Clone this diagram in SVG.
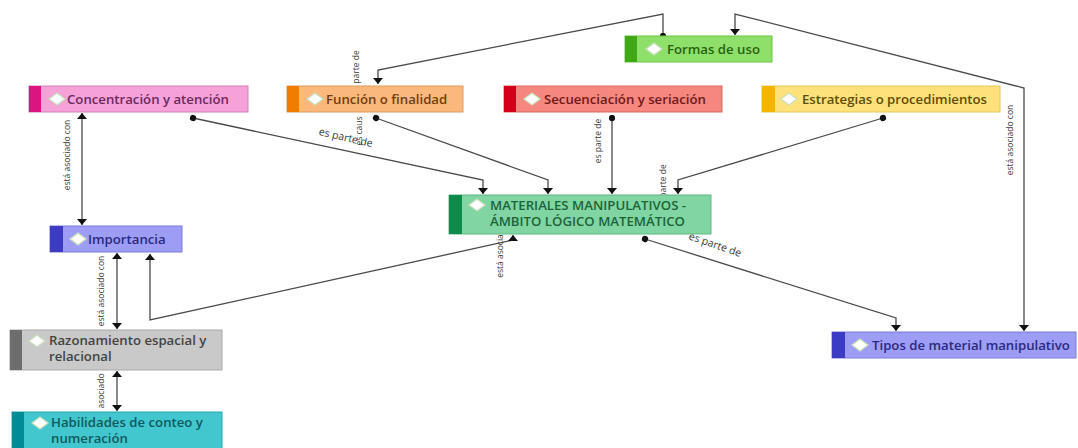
<svg xmlns="http://www.w3.org/2000/svg" width="1078" height="448" viewBox="0 0 1078 448">
<style>
.bg{fill:#ffffff}
.ln{fill:none;stroke:#4a4a4a;stroke-width:1.3}
.t{font-family:"Open Sans","Liberation Sans",sans-serif;font-size:13.2px;font-weight:600}
.lb{font-family:"Open Sans","Liberation Sans",sans-serif;font-size:8.5px;fill:#3a3a3a}
.lb2{font-family:"Open Sans","Liberation Sans",sans-serif;font-size:10.5px;fill:#3a3a3a}
.dm{fill:#ffffff;stroke:#cadfbd;stroke-width:1.3}
</style>
<defs>
<marker id="ar" viewBox="0 0 6 10" refX="6" refY="5" markerWidth="6" markerHeight="10" markerUnits="userSpaceOnUse" orient="auto-start-reverse">
<path d="M0,0 L6,5 L0,10 z" fill="#111"/>
</marker>
<marker id="dot" viewBox="0 0 8 8" refX="4" refY="4" markerWidth="7" markerHeight="7" markerUnits="userSpaceOnUse" orient="auto">
<circle cx="4" cy="4" r="3.6" fill="#111"/>
</marker>
</defs>
<rect class="bg" width="1078" height="448"/>

<g id="connectors">
<path class="ln" d="M663,36 V14 L378,70 V84" marker-start="url(#dot)" marker-end="url(#ar)"/>
<path class="ln" d="M735,35 V14 L1024,88 V331" marker-start="url(#ar)" marker-end="url(#ar)"/>
<path class="ln" d="M193,118 L483,180 V194" marker-start="url(#dot)" marker-end="url(#ar)"/>
<path class="ln" d="M376,118 L548,180 V194" marker-start="url(#dot)" marker-end="url(#ar)"/>
<path class="ln" d="M612,118 V194" marker-start="url(#dot)" marker-end="url(#ar)"/>
<path class="ln" d="M883,118 L678,180 V194" marker-start="url(#dot)" marker-end="url(#ar)"/>
<path class="ln" d="M513,235 V240 L150,320 V254" marker-start="url(#ar)" marker-end="url(#ar)"/>
<path class="ln" d="M645,239 L896,318 V331" marker-start="url(#dot)" marker-end="url(#ar)"/>
<path class="ln" d="M82,113 V225" marker-start="url(#ar)" marker-end="url(#ar)"/>
<path class="ln" d="M117,253 V329" marker-start="url(#ar)" marker-end="url(#ar)"/>
<path class="ln" d="M117,371 V411" marker-start="url(#ar)" marker-end="url(#ar)"/>
<text class="lb" transform="translate(359,67) rotate(-90)" text-anchor="middle">parte de</text>
<text class="lb" transform="translate(362,131) rotate(-90)" text-anchor="middle">es caus</text>
<text class="lb" transform="translate(1013,140) rotate(-90)" text-anchor="middle">está asociado con</text>
<text class="lb2" transform="translate(345,141) rotate(13)" text-anchor="middle">es parte de</text>
<text class="lb" transform="translate(601,141) rotate(-90)" text-anchor="middle">es parte de</text>
<text class="lb" transform="translate(666,181) rotate(-90)" text-anchor="middle">parte de</text>
<text class="lb" transform="translate(503,256) rotate(-90)" text-anchor="middle">está asocia</text>
<text class="lb2" transform="translate(714,248) rotate(19)" text-anchor="middle">es parte de</text>
<text class="lb" transform="translate(70,155) rotate(-90)" text-anchor="middle">está asociado con</text>
<text class="lb" transform="translate(104,291) rotate(-90)" text-anchor="middle">está asociado con</text>
<text class="lb" transform="translate(104,391) rotate(-90)" text-anchor="middle">asociado</text>
</g>

<g id="n-formas">
<rect x="625" y="36" width="147" height="26" fill="#8fe06a" stroke="#6cc447"/>
<rect x="625" y="36" width="12" height="26" fill="#3fa814"/>
<path class="dm" d="M646,49 L654,43 L662,49 L654,55 z"/>
<text class="t" x="667" y="54" fill="#2a6010">Formas de uso</text>
</g>

<g id="n-concentracion">
<rect x="29" y="86" width="219" height="26" fill="#f6a2d8" stroke="#d47fb8"/>
<rect x="29" y="86" width="12" height="26" fill="#dc1480"/>
<path class="dm" d="M49,99 L57,93 L65,99 L57,105 z"/>
<text class="t" x="67" y="104" fill="#6a2a62">Concentración y atención</text>
</g>

<g id="n-funcion">
<rect x="287" y="86" width="176" height="26" fill="#fbb87c" stroke="#e09a5c"/>
<rect x="287" y="86" width="12" height="26" fill="#f27c00"/>
<path class="dm" d="M307,99 L315,93 L323,99 L315,105 z"/>
<text class="t" x="326" y="104" fill="#733c10">Función o finalidad</text>
</g>

<g id="n-secuenciacion">
<rect x="504" y="86" width="218" height="26" fill="#f5877e" stroke="#d8675e"/>
<rect x="504" y="86" width="12" height="26" fill="#d20018"/>
<path class="dm" d="M524,99 L532,93 L540,99 L532,105 z"/>
<text class="t" x="544" y="104" fill="#701818">Secuenciación y seriación</text>
</g>

<g id="n-estrategias">
<rect x="762" y="86" width="238" height="26" fill="#fde27c" stroke="#e6c65a"/>
<rect x="762" y="86" width="13" height="26" fill="#f5b400"/>
<path class="dm" d="M781,99 L789,93 L797,99 L789,105 z"/>
<text class="t" x="802" y="104" fill="#624c00">Estrategias o procedimientos</text>
</g>

<g id="n-materiales">
<rect x="449" y="195" width="262" height="39" fill="#80d5a2" stroke="#5fb884"/>
<rect x="449" y="195" width="13" height="39" fill="#0e8a4a"/>
<path class="dm" d="M469,205 L477,199 L485,205 L477,211 z"/>
<text class="t" x="490" y="210" fill="#1c6438">MATERIALES MANIPULATIVOS -</text>
<text class="t" x="490" y="226" fill="#1c6438">ÁMBITO LÓGICO MATEMÁTICO</text>
</g>

<g id="n-importancia">
<rect x="50" y="226" width="132" height="26" fill="#9d9df6" stroke="#7c7cd8"/>
<rect x="50" y="226" width="13" height="26" fill="#3b3bc4"/>
<path class="dm" d="M70,239 L78,233 L86,239 L78,245 z"/>
<text class="t" x="88" y="244" fill="#2a2a80">Importancia</text>
</g>

<g id="n-razonamiento">
<rect x="10" y="330" width="212" height="40" fill="#c9c9c9" stroke="#a9a9a9"/>
<rect x="10" y="330" width="12" height="40" fill="#6d6d6d"/>
<path class="dm" d="M29,341 L37,335 L45,341 L37,347 z"/>
<text class="t" x="49" y="345" fill="#444444">Razonamiento espacial y</text>
<text class="t" x="49" y="361" fill="#444444">relacional</text>
</g>

<g id="n-habilidades">
<rect x="12" y="412" width="210" height="40" fill="#42c7cf" stroke="#25a8b0"/>
<rect x="12" y="412" width="12" height="40" fill="#008c96"/>
<path class="dm" d="M32,423 L40,417 L48,423 L40,429 z"/>
<text class="t" x="51" y="427" fill="#0f5a60">Habilidades de conteo y</text>
<text class="t" x="51" y="443" fill="#0f5a60">numeración</text>
</g>

<g id="n-tipos">
<rect x="832" y="332" width="244" height="26" fill="#9d9df6" stroke="#7c7cd8"/>
<rect x="832" y="332" width="13" height="26" fill="#3b3bc4"/>
<path class="dm" d="M852,345 L860,339 L868,345 L860,351 z"/>
<text class="t" x="872" y="350" fill="#2a2a80">Tipos de material manipulativo</text>
</g>
</svg>
